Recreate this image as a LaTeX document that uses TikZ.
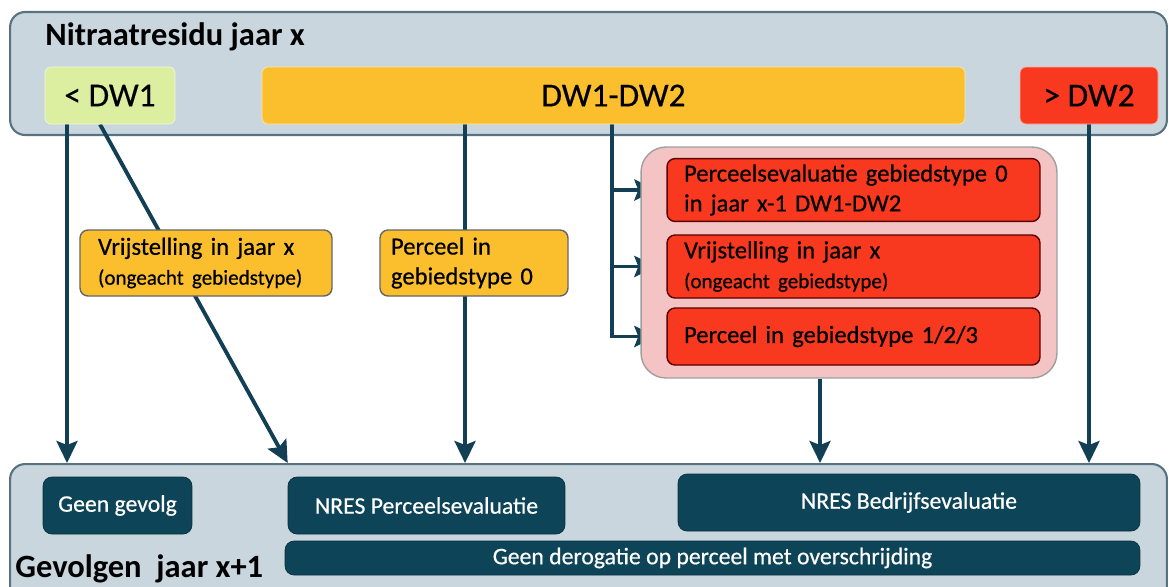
\documentclass[tikz,border=0pt]{standalone}
\usepackage{fontspec}
\setmainfont{Carlito}[UprightFeatures={FakeBold=0.5}]
\usetikzlibrary{arrows.meta}

\definecolor{paneelgrijs}{HTML}{C9D6DE}
\definecolor{paneelrand}{HTML}{587280}
\definecolor{lichtgroen}{HTML}{DCEE9F}
\definecolor{oranjegeel}{HTML}{FBBF2E}
\definecolor{felrood}{HTML}{F8381F}
\definecolor{lichtroze}{HTML}{F4C3C3}
\definecolor{donkerblauw}{HTML}{0E4457}
\definecolor{pijlblauw}{HTML}{133F55}

\newcommand{\kleintekst}{\fontsize{12}{14}\selectfont}

\pgfdeclarelayer{achter}
\pgfdeclarelayer{midden}
\pgfsetlayers{achter,midden,main}

\tikzset{
  paneel/.style={draw=paneelrand, line width=1.2pt, fill=paneelgrijs, rounded corners=0.3cm, inner sep=0pt},
  niveau/.style={fill=#1, draw=white!60!#1, rounded corners=0.12cm, inner sep=0pt,
    minimum height=1.14cm, font=\fontsize{19}{22}\selectfont},
  geelblok/.style={fill=oranjegeel, draw=gray!80!black, line width=0.8pt, rounded corners=0.16cm,
    align=left, inner xsep=0.36cm, minimum height=1.32cm, font=\fontsize{14}{17}\selectfont},
  roodblok/.style={fill=felrood, draw=red!35!black, line width=0.8pt, rounded corners=0.16cm,
    align=left, inner xsep=0.34cm, text width=6.78cm, font=\fontsize{14}{17}\selectfont},
  donkerblok/.style={fill=donkerblauw, draw=donkerblauw!70!black, text=white, rounded corners=0.18cm,
    inner sep=0pt, font=\fontsize{13.5}{16}\selectfont},
  kop/.style={anchor=base west, inner sep=0pt, font=\bfseries\fontsize{18.5}{21}\selectfont},
  lijn/.style={draw=pijlblauw, line width=2.2pt},
  pijl/.style={lijn, -{Stealth[length=0.44cm, width=0.42cm, inset=0.08cm]}},
}

\begin{document}
\begin{tikzpicture}[x=0.02cm, y=-0.02cm]
  \useasboundingbox (0,0) rectangle (1169,586);

  % Panels
  \begin{pgfonlayer}{achter}
    \node[paneel, minimum width=23.14cm, minimum height=2.46cm] (boven) at (588.5,73.5) {};
    \node[paneel, minimum width=23.14cm, minimum height=3cm, anchor=north] (onder) at (588.5,463) {};
  \end{pgfonlayer}

  \node[kop] (titel) at (45,45) {Nitraatresidu jaar x};
  \node[kop] (gevolgen) at (15,577) {Gevolgen\ \ jaar x+1};

  % Nitraatresidu classes
  \node[niveau=lichtgroen, minimum width=2.6cm] (dw1) at (110,95.5) {< DW1};
  \node[niveau=oranjegeel, minimum width=14.06cm] (dw12) at (613.5,95.5) {DW1-DW2};
  \node[niveau=felrood, minimum width=2.76cm] (dw2) at (1089,95.5) {> DW2};

  % Conditions
  \node[geelblok, text width=4.32cm] (vrij) at (206,263)
    {Vrijstelling in jaar x\\{\kleintekst (ongeacht gebiedstype)}};
  \node[geelblok, text width=3.32cm, inner xsep=0.22cm] (perc0) at (474,263)
    {Perceel in\\gebiedstype 0};

  \node[fill=lichtroze, draw=gray!75, line width=0.8pt, rounded corners=0.5cm,
        minimum width=8.32cm, minimum height=4.62cm] (rodegroep) at (849,262.5) {};
  \node[roodblok, minimum height=1.2cm] (r1) at (853.5,190)
    {Perceelsevaluatie gebiedstype 0\\in jaar x-1 DW1-DW2};
  \node[roodblok, minimum height=1.26cm] (r2) at (853.5,266.5)
    {Vrijstelling in jaar x\\{\kleintekst (ongeacht gebiedstype)}};
  \node[roodblok, minimum height=1.14cm] (r3) at (853.5,336.5)
    {Perceel in gebiedstype 1/2/3};

  % Gevolgen
  \node[donkerblok, minimum width=2.98cm, minimum height=1.14cm] (gevolg) at (117.5,505.5) {Geen gevolg};
  \node[donkerblok, minimum width=5.54cm, minimum height=1.14cm] (nresp) at (426.5,505.5) {NRES Perceelsevaluatie};
  \node[donkerblok, minimum width=9.24cm, minimum height=1.14cm] (nresb) at (909,502.5) {NRES Bedrijfsevaluatie};
  \node[donkerblok, minimum width=17.1cm, minimum height=0.68cm] (gdero) at (712.5,558)
    {Geen derogatie op perceel met overschrijding};

  % Arrows
  \begin{pgfonlayer}{midden}
    \coordinate (b1) at ([xshift=-0.86cm]dw1.south);
    \draw[pijl] (b1) -- (b1 |- onder.north);
    \draw[pijl] ([xshift=-0.2cm]dw1.south) -- (nresp.west |- onder.north);
    \coordinate (b2) at ([xshift=-2.97cm]dw12.south);
    \draw[pijl] (b2) -- (b2 |- onder.north);
    \coordinate (b3) at ([xshift=-0.03cm]dw12.south);
    \draw[pijl] (b3) -- (b3 |- r3.west) -- ([xshift=-0.2cm]r3.west);
    \foreach \r in {r1,r2}
      \draw[pijl] (b3 |- \r.west) -- ([xshift=-0.2cm]\r.west);
    \coordinate (b4) at ([xshift=-0.58cm]rodegroep.south);
    \draw[pijl] (b4) -- (b4 |- onder.north);
    \draw[pijl] (dw2.south) -- (dw2.south |- onder.north);
  \end{pgfonlayer}

\end{tikzpicture}
\end{document}
